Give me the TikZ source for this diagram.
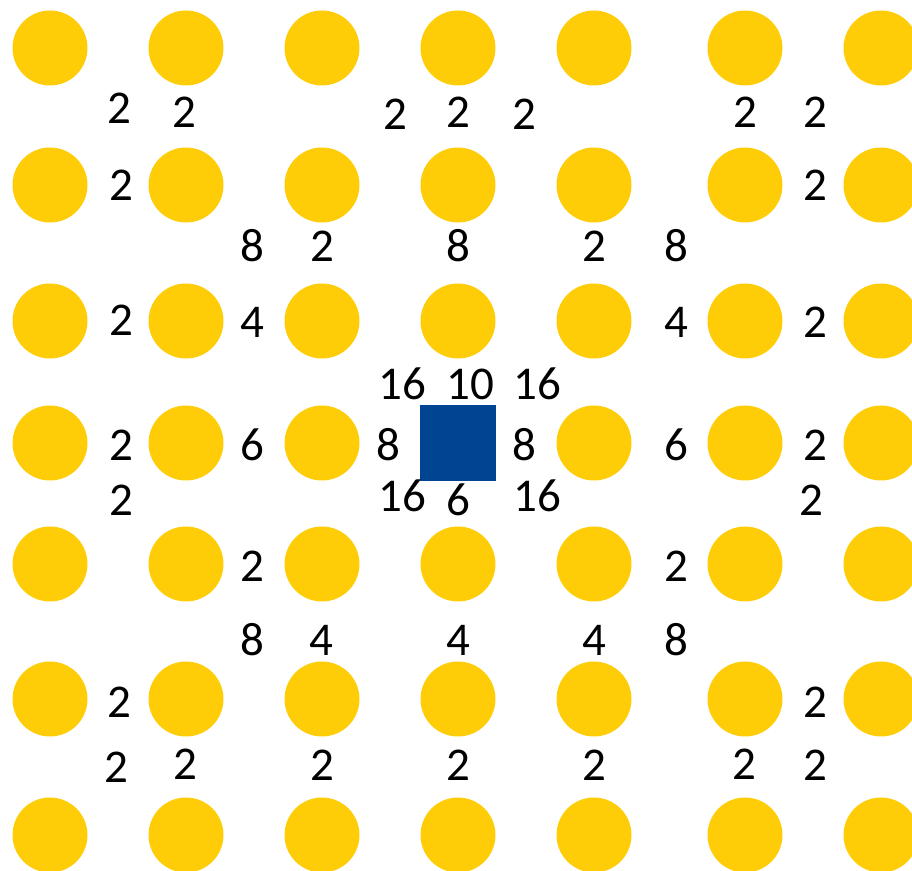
\documentclass[tikz,border=0pt]{standalone}
\usepackage{fontspec}
\setmainfont{Carlito}
\definecolor{dotyellow}{RGB}{254,205,8}
\definecolor{siteblue}{RGB}{0,69,145}
\tikzset{
  dot/.style={circle,fill=dotyellow,inner sep=0pt,minimum size=37.5pt},
  site/.style={rectangle,fill=siteblue,inner sep=0pt,minimum size=38pt},
  num/.style={font=\fontsize{23.5}{28}\selectfont,inner sep=0pt},
}
\begin{document}
\begin{tikzpicture}[x=0.5pt,y=-0.5pt]
  \useasboundingbox (0,0) rectangle (912,871);
  \clip (0,0) rectangle (912,871);
  % lattice of dots, blue site in the middle
  \foreach \x [count=\i] in {50,186,322,458,594,745,881}
    \foreach \y [count=\j] in {48,185,321,443,564,699,835}
      {\ifnum\i\j=44 \else \node[dot] (c\i\j) at (\x,\y) {}; \fi}
  \node[site] (v) at (458,443) {};
  % counts
  \foreach \x/\y/\t [count=\k] in {
      119/108/2, 184/112/2, 395/114/2, 458/112/2, 524/114/2, 745/112/2, 815/112/2,
      121/185/2, 815/185/2,
      252/246/8, 322/246/2, 458/246/8, 594/246/2, 676/246/8,
      121/320/2, 252/322/4, 676/322/4, 815/322/2,
      402/384/16, 470/384/10, 537/384/16,
      121/445/2, 252/445/6, 388/445/8, 524/445/8, 676/445/6, 815/445/2,
      121/500/2, 402/496/16, 458/500/6, 537/496/16, 811/500/2,
      252/566/2, 676/566/2,
      252/640/8, 321/640/4, 458/640/4, 594/640/4, 676/640/8,
      119/702/2, 815/702/2,
      116/767/2, 185/764/2, 322/765/2, 458/765/2, 594/765/2, 744/764/2, 815/765/2}
    \node[num] (n\k) at (\x,\y) {\t};
\end{tikzpicture}
\end{document}
